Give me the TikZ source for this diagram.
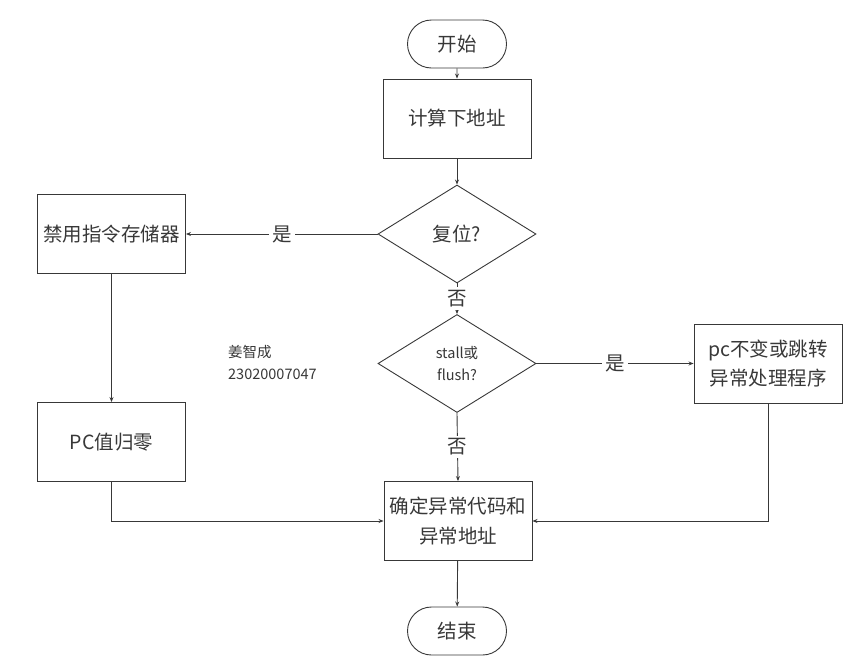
\documentclass[tikz,border=0pt]{standalone}
\usepackage{fontspec}
\setmainfont{Noto Sans CJK SC}
\usetikzlibrary{shapes.geometric,shapes.misc,arrows.meta}
\definecolor{ink}{HTML}{383838}
\tikzset{
  base/.style={draw=ink, line width=0.9pt, text=ink, font=\fontsize{19.5}{29.5}\selectfont, inner sep=1pt},
  term/.style={base, rounded rectangle, minimum width=101pt, minimum height=48pt},
  proc/.style={base, rectangle, minimum width=148pt, minimum height=79pt, align=center},
  decide/.style={base, diamond, minimum width=158pt, minimum height=98pt, align=center},
  conn/.style={draw=ink, line width=0.9pt, -{Stealth[length=5pt,width=4pt]}},
  lbl/.style={fill=white, text=ink, font=\fontsize{19.5}{22}\selectfont, inner sep=3pt},
}
\begin{document}
\begin{tikzpicture}[x=1pt,y=-1pt]
\useasboundingbox (0,0) rectangle (865,662);
\node[term] (start) at (457,44) {开始};
\node[proc] (calc) at (457,118.5) {计算下地址};
\node[decide] (reset) at (457,234) {复位?};
\node[decide, font=\fontsize{14.5}{22}\selectfont] (stall) at (457,363.5) {stall或\\flush?};
\node[proc] (disable) at (111.5,234) {禁用指令存储器};
\node[proc] (pczero) at (111.5,442) {PC值归零};
\node[proc] (pcjump) at (768,363.5) {pc不变或跳转\\异常处理程序};
\node[proc] (decide2) at (458,521) {确定异常代码和\\异常地址};
\node[term] (end) at (457,631) {结束};
\node[text=ink, font=\fontsize{14.5}{22}\selectfont, align=left, anchor=west, inner sep=0pt] (author) at (228,362) {姜智成\\23020007047};

\draw[conn] (start) -- (calc);
\draw[conn] (calc) -- (reset);
\draw[conn] (reset.west) -- node[lbl] {是} (disable.east);
\draw[conn] (reset.south) -- node[lbl] {否} (stall.north);
\draw[conn] (stall.east) -- node[lbl] {是} (pcjump.west);
\draw[conn] (stall.south) -- node[lbl] {否} (decide2.north);
\draw[conn] (disable) -- (pczero);
\draw[conn] (pczero.south) |- (decide2.west);
\draw[conn] (pcjump.south) |- (decide2.east);
\draw[conn] (decide2) -- (end);
\end{tikzpicture}
\end{document}
